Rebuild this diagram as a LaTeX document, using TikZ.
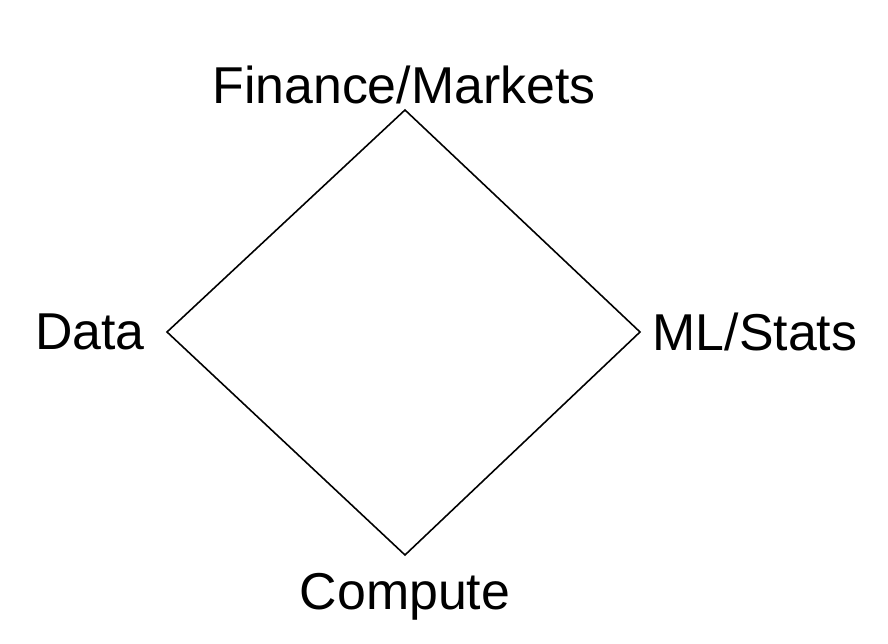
\documentclass[tikz,border=0pt]{standalone}
\usepackage{fontspec}
\setmainfont{Liberation Sans}

\tikzset{lbl/.style={font=\fontsize{29.5}{35}\selectfont, inner sep=0pt}}

\begin{document}
\begin{tikzpicture}
\useasboundingbox (0,0) rectangle (17.76,12.88);
\coordinate (top) at (8.1,10.68);
\coordinate (left) at (3.34,6.24);
\coordinate (right) at (12.8,6.24);
\coordinate (bottom) at (8.1,1.78);
\draw [black, line width=0.9pt] (top) -- (right) -- (bottom) -- (left) -- cycle;

\node [lbl] (fin) at (8.08,11.18) {Finance/Markets};
\node [lbl] (data) at (1.8,6.24) {Data};
\node [lbl] (ml) at (15.1,6.24) {ML/Stats};
\node [lbl] (comp) at (8.1,0.94) {Compute};
\end{tikzpicture}
\end{document}
